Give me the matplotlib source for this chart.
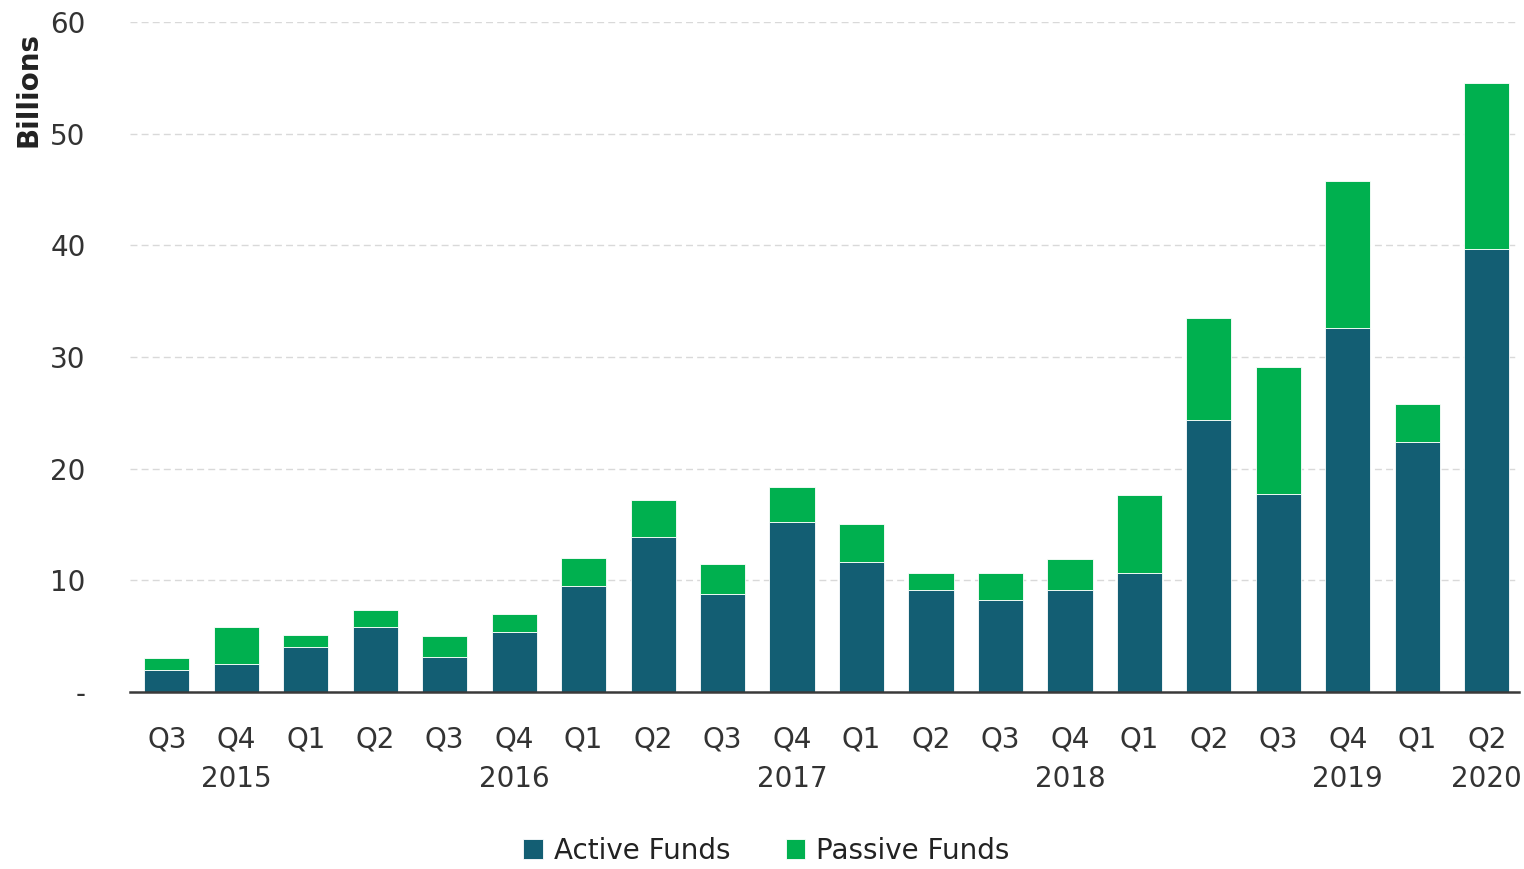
import matplotlib
matplotlib.use('Agg')
import matplotlib.pyplot as plt
from matplotlib import font_manager
import numpy as np

# quarters from Q3 2015 to Q2 2020
quarters = ['Q3', 'Q4', 'Q1', 'Q2', 'Q3', 'Q4', 'Q1', 'Q2', 'Q3', 'Q4',
            'Q1', 'Q2', 'Q3', 'Q4', 'Q1', 'Q2', 'Q3', 'Q4', 'Q1', 'Q2']
years = ['', '2015', '', '', '', '2016', '', '', '', '2017',
         '', '', '', '2018', '', '', '', '2019', '', '2020']
active = [2.0, 2.5, 4.0, 5.8, 3.1, 5.4, 9.5, 13.9, 8.8, 15.2,
          11.6, 9.1, 8.2, 9.1, 10.7, 24.4, 17.7, 32.6, 22.4, 39.7]
total = [3.0, 5.8, 5.1, 7.3, 5.0, 7.0, 12.0, 17.2, 11.5, 18.4,
         15.0, 10.7, 10.7, 11.9, 17.6, 33.5, 29.1, 45.8, 25.8, 54.5]
passive = [t - a for t, a in zip(total, active)]

yticks = [0, 10, 20, 30, 40, 50, 60]
ytick_labels = ['-', '10', '20', '30', '40', '50', '60']

installed = set(f.name for f in font_manager.fontManager.ttflist)
narrow = 'Liberation Sans Narrow' if 'Liberation Sans Narrow' in installed else 'DejaVu Sans'
plt.rcParams['font.family'] = [narrow, 'DejaVu Sans']

active_col = '#135e73'
passive_col = '#00b04f'

fig = plt.figure(figsize=(15.24, 8.69), dpi=100, facecolor='white')
ax = fig.add_axes([0.0853, 0.2037, 0.9117, 0.771])

x = np.arange(len(quarters))
ax.bar(x, active, width=0.65, color=active_col, edgecolor='white', linewidth=0.6, zorder=3,
       label='Active Funds')
ax.bar(x, passive, width=0.65, bottom=active, color=passive_col, edgecolor='white', linewidth=0.6,
       zorder=3, label='Passive Funds')

ax.set_xlim(-0.53, 19.47)
ax.set_ylim(0, 60)
ax.set_yticks(yticks)
ax.set_yticklabels(ytick_labels, fontsize=20, color='#333333')
ax.set_xticks(x)
ax.set_xticklabels([q + '\n' + y if y else q for q, y in zip(quarters, years)],
                   fontsize=20, color='#333333', linespacing=1.55)
ax.tick_params(axis='both', length=0)
ax.tick_params(axis='y', pad=32)
ax.tick_params(axis='x', pad=24)
for lab in ax.get_xticklabels():
    lab.set_verticalalignment('top')

for s in ['top', 'right', 'left']:
    ax.spines[s].set_visible(False)
ax.spines['bottom'].set_color('#3a3a3a')
ax.spines['bottom'].set_linewidth(1.8)
ax.spines['bottom'].set_zorder(4)

ax.yaxis.grid(True, linestyle=(0, (5, 3)), color='#d9d9d9', linewidth=1.0, zorder=0)

fig.text(0.019, 0.897, 'Billions', rotation=90, fontsize=20, fontweight='bold',
         ha='center', va='center', color='#222222')

leg = fig.legend(loc='lower center', bbox_to_anchor=(0.503, -0.024), ncol=2, frameon=False,
                 fontsize=20, handlelength=0.7, handleheight=0.7, handletextpad=0.4,
                 columnspacing=2.0)
for t in leg.get_texts():
    t.set_color('#222222')

fig.savefig('out.png', dpi=100, facecolor='white')
